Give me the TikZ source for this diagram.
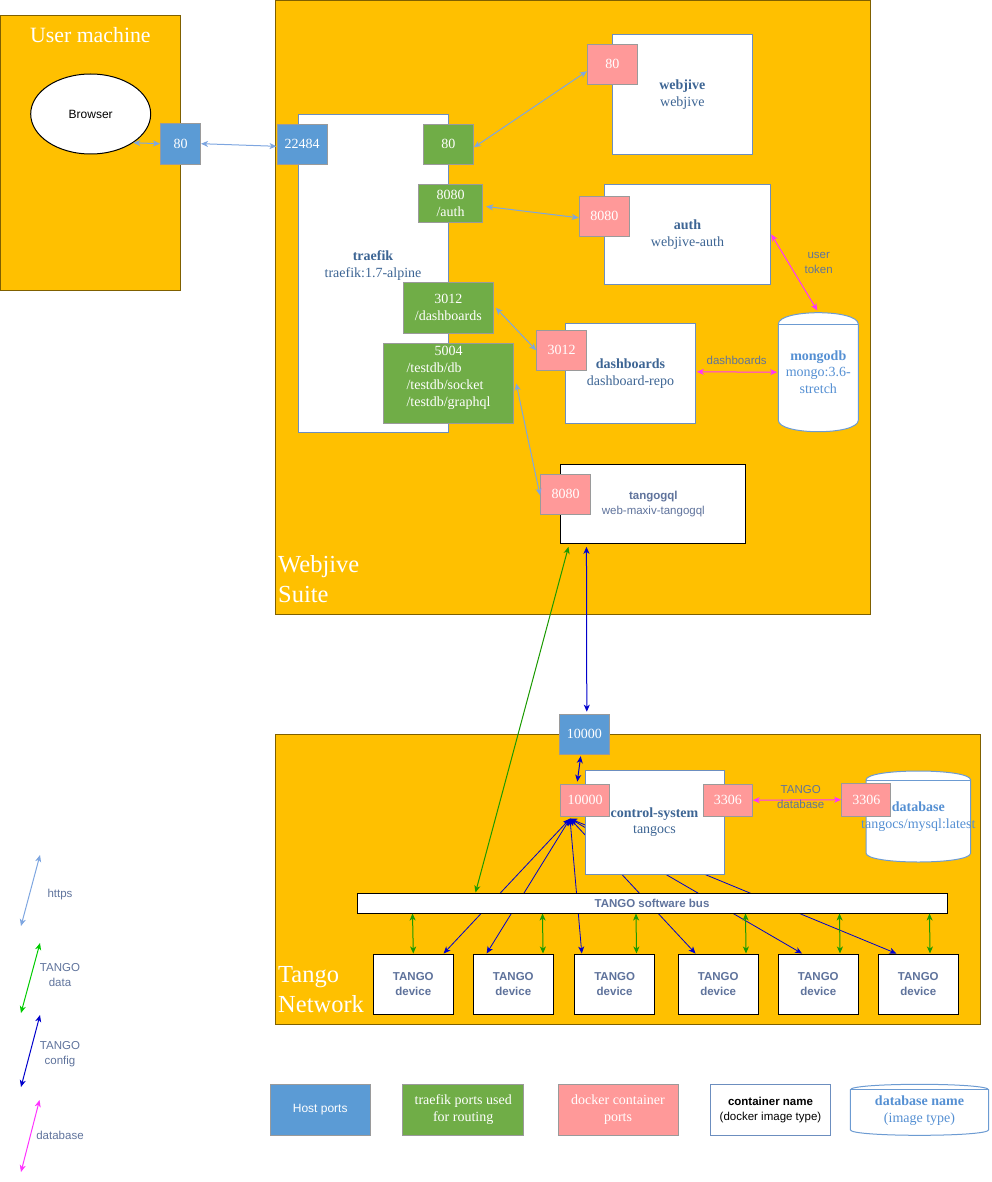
\documentclass[tikz,border=0pt]{standalone}
\usepackage{fontspec}
\setmainfont{Liberation Serif}
\setsansfont{Liberation Sans}
\usetikzlibrary{arrows.meta,calc,shapes.geometric}
\definecolor{ylw}{HTML}{FFC000}
\definecolor{ylwb}{HTML}{7F6000}
\definecolor{hostc}{HTML}{5B9BD5}
\definecolor{grnc}{HTML}{70AD47}
\definecolor{pnkc}{HTML}{FF9999}
\definecolor{portb}{HTML}{9A9A9A}
\definecolor{cbord}{HTML}{6C8EBF}
\definecolor{ctxt}{HTML}{3D6594}
\definecolor{dbtxt}{HTML}{5590D3}
\definecolor{cylb}{HTML}{6C9BD2}
\definecolor{stxt}{HTML}{5F739C}
\definecolor{cHttps}{HTML}{7EA6E0}
\definecolor{cData}{HTML}{1A9A00}
\definecolor{cDataL}{HTML}{00CC00}
\definecolor{cConf}{HTML}{0000CC}
\definecolor{cMag}{HTML}{FF33FF}
\newcommand\fser{\fontsize{14}{16.8}\selectfont}
\newcommand\fsan{\fontsize{11.5}{14.6}\selectfont\sffamily}
\newcommand\drawcyl[6][]{%
 \draw[#1] (#2,#3+#6) .. controls (#2,#3-#6/3) and (#4,#3-#6/3) .. (#4,#3+#6) -- (#4,#5-#6) .. controls (#4,#5+#6/3) and (#2,#5+#6/3) .. (#2,#5-#6) -- cycle;
 \draw[#1] (#2,#3+#6) -- (#4,#3+#6);}
\pgfdeclarelayer{back}
\pgfdeclarelayer{bg}
\pgfsetlayers{back,bg,main}
\tikzset{
 bigbox/.style={draw=ylwb, fill=ylw, line width=1pt, inner sep=0pt},
 titletext/.style={text=white, inner sep=0pt, align=left},
 portbase/.style={draw=portb, line width=1pt, inner sep=0pt, text=white, font=\fser, align=center},
 hostport/.style={portbase, fill=hostc},
 grnport/.style={portbase, fill=grnc},
 pnkport/.style={portbase, fill=pnkc},
 cont/.style={draw=cbord, fill=white, line width=1pt, inner sep=0pt, text=ctxt, font=\fser, align=center},
 ctxtst/.style={inner sep=0pt, text=ctxt, font=\fser, align=center},
 sbox/.style={draw=black, fill=white, line width=1pt, inner sep=0pt, text=stxt, font=\fsan\bfseries, align=center},
 cylnode/.style={inner sep=0pt, text=dbtxt, font=\fser, align=center},
 cylst/.style={draw=cylb, fill=white, line width=1pt},
 lbl/.style={font=\fsan, text=stxt, align=center, inner sep=0pt},
 >={Stealth[length=7pt,width=6pt,inset=2pt]},
 lnhttps/.style={draw=cHttps, line width=1pt, <->},
 lnmag/.style={draw=cMag, line width=1pt, <->},
 lndata/.style={draw=cData, line width=1pt, <->},
 lnconf/.style={draw=cConf, line width=1pt, <->},
}
\begin{document}
\begin{tikzpicture}[x=1pt,y=-1pt]
\useasboundingbox (0,0) rectangle (991,1182);
% ---------- containers (back layer)
\begin{pgfonlayer}{back}
\node[bigbox, minimum width=179.8pt, minimum height=274pt] (usermachine) at (90.4,153) {};
\node[bigbox, minimum width=594.5pt, minimum height=613.5pt] (suite) at (572.75,307.25) {};
\node[bigbox, minimum width=704.3pt, minimum height=289.7pt] (tnet) at (627.85,879.15) {};
\end{pgfonlayer}
\node[titletext, font=\fontsize{21.8}{26}\selectfont] (umtitle) at (90.4,35) {User machine};
\node[titletext, anchor=west, font=\fontsize{24.5}{30}\selectfont] (suitetitle) at (278,579.6) {Webjive\\Suite};
\node[titletext, anchor=west, font=\fontsize{24.5}{30}\selectfont] (tnettitle) at (278,989.6) {Tango\\Network};
% ---------- user machine
\node[draw=black, fill=white, line width=1pt, ellipse, inner sep=0pt, minimum width=120pt, minimum height=80pt, font=\fontsize{12}{14}\selectfont\sffamily] (browser) at (90.7,114) {Browser};
\node[hostport, minimum width=40pt, minimum height=40.7pt] (host80) at (180.5,143.7) {80};
% ---------- webjive suite
\node[cont, minimum width=150pt, minimum height=318pt] (traefik) at (373.5,273.3) {};
\node[ctxtst] (traefikt) at (373,265.7) {\textbf{traefik}\\traefik:1.7-alpine};
\node[hostport, minimum width=50pt, minimum height=40pt] (p22484) at (302,144.3) {22484};
\node[grnport, minimum width=50.2pt, minimum height=40pt] (g80) at (448.4,144.3) {80};
\node[grnport, minimum width=64.4pt, minimum height=38.4pt] (g8080) at (450.5,203.5) {8080\\/auth};
\node[grnport, minimum width=90pt, minimum height=51pt] (g3012) at (448.3,307.8) {3012\\/dashboards};
\node[grnport, minimum width=130.4pt, minimum height=80.4pt] (g5004) at (448.5,383.5) {};
\node[inner sep=0pt, text=white, font=\fser] (g5004t) at (448.5,377.6) {\begin{tabular}{@{}l@{}}\multicolumn{1}{@{}c@{}}{5004}\\/testdb/db\\/testdb/socket\\/testdb/graphql\end{tabular}};

\node[cont, minimum width=140pt, minimum height=120pt] (webjive) at (682.3,94.3) {\textbf{webjive}\\webjive};
\node[pnkport, minimum width=50pt, minimum height=40pt] (w80) at (612.3,64.3) {80};
\node[cont, minimum width=166.4pt, minimum height=100pt] (auth) at (687.5,234.3) {\textbf{auth}\\webjive-auth};
\node[pnkport, minimum width=50pt, minimum height=40pt] (a8080) at (604.3,216.3) {8080};
\node[cont, minimum width=129.6pt, minimum height=100pt] (dashboards) at (630.5,373.3) {\textbf{dashboards}\\dashboard-repo};
\node[pnkport, minimum width=50pt, minimum height=40pt] (d3012) at (561.7,350.3) {3012};
\drawcyl[cylst]{778.3}{312.7}{858.3}{431.7}{11.5}
\node[cylnode, minimum width=80pt, minimum height=119pt] (mongo) at (818.3,372.2) {\textbf{mongodb}\\mongo:3.6-\\stretch};
\node[sbox, minimum width=184.7pt, minimum height=79pt, font=\fsan] (tangogql) at (653.3,503.8) {\textbf{tangogql}\\web-maxiv-tangogql};
\node[pnkport, minimum width=50pt, minimum height=40pt] (t8080) at (565.5,494.3) {8080};
% ---------- tango network
\node[hostport, minimum width=50pt, minimum height=40pt] (h10000) at (584.3,734.2) {10000};
\node[cont, minimum width=139pt, minimum height=103.7pt] (ctrl) at (654.5,822.2) {\textbf{control-system}\\tangocs};
\node[pnkport, minimum width=49pt, minimum height=32pt] (c10000) at (585,800.2) {10000};
\node[pnkport, minimum width=49pt, minimum height=32pt] (c3306) at (727.8,800.2) {3306};
\drawcyl[cylst]{866}{771}{970.7}{862}{9}
\node[cylnode, minimum width=104.7pt, minimum height=91pt] (dbcyl) at (918.3,816.5) {\textbf{database}\\tangocs/mysql:latest};
\node[pnkport, minimum width=49.3pt, minimum height=32.7pt] (d3306) at (866.3,799.7) {3306};
\node[sbox, minimum width=590pt, minimum height=20pt] (bus) at (652,903) {TANGO software bus};
\foreach \n/\cx in {1/413.3,2/513.3,3/614.6,4/718.2,5/818.3,6/918.3}
  \node[sbox, minimum width=80pt, minimum height=60pt] (dev\n) at (\cx,984) {TANGO\\device};
% ---------- connectors
\draw[lnhttps] (browser.-34) -- (host80.west);
\draw[lnhttps] (host80.east) -- ($(p22484.west)+(0,2)$);
\draw[lnhttps] ($(g80.east)+(0,3)$) -- ($(w80.west)+(0,7)$);
\draw[lnhttps] ($(g8080.east)+(3,3)$) -- ($(a8080.west)+(0,1.5)$);
\draw[lnhttps] ($(g3012.east)+(2,0)$) -- (d3012.west);
\draw[lnhttps] ($(g5004.east)+(2,0)$) -- ($(t8080.west)+(0,1)$);
\draw[lnmag] (auth.east) -- ($(mongo.north)+(-1,-2)$);
\node[lbl] (lbltoken) at (818.7,263) {user\\token};
\draw[lnmag] ($(dashboards.east)+(1,-1.5)$) -- ($(mongo.west)+(-1,0)$);
\node[lbl] (lbldash) at (736.7,360.7) {dashboards};
\draw[lndata] ($(bus.north west)+(119,0)$) -- ($(tangogql.south west)+(8,3)$);
\draw[lnconf] ($(tangogql.south west)+(26,3)$) -- ($(h10000.north)+(2.5,-2)$);
\draw[lnconf] ($(h10000.south)+(-3.6,1.5)$) -- ($(c10000.north)+(-7.7,-2)$);
\draw[lnmag] (c3306.east) -- (d3306.west);
\node[lbl] (lbltdb) at (800.7,797.3) {TANGO\\database};
\begin{pgfonlayer}{bg}
\foreach \d/\o in {dev1/30.3,dev2/-26.7,dev3/-32.8,dev4/-22.7,dev5/-16.3,dev6/-21.9}
  \draw[lnconf, line width=0.8pt] ($(c10000.south)+(-15,2)$) -- ($(\d.north)+(\o,0)$);
\end{pgfonlayer}
\foreach \d/\o/\bx in {dev1/0/56,dev2/29.7/186,dev3/21.9/279.5,dev4/27.8/389,dev5/21.7/483,dev6/11.7/573}
  \draw[lndata] ($(bus.south west)+(\bx,0)$) -- ($(\d.north)+(\o,0)$);
% ---------- legend (left)
\coordinate (lh1) at (40,855);   \coordinate (lh2) at (21,926);
\coordinate (ld1) at (40,943);   \coordinate (ld2) at (21,1013);
\coordinate (lc1) at (40,1015);  \coordinate (lc2) at (21,1087);
\coordinate (lm1) at (39.5,1100);\coordinate (lm2) at (21,1172);
\draw[lnhttps] (lh1) -- (lh2);
\draw[lndata, draw=cDataL] (ld1) -- (ld2);
\draw[lnconf] (lc1) -- (lc2);
\draw[lnmag] (lm1) -- (lm2);
\node[lbl] (lgh) at (60,895) {https};
\node[lbl] (lgd) at (60,975) {TANGO\\data};
\node[lbl] (lgc) at (60,1054) {TANGO\\config};
\node[lbl] (lgm) at (60,1135) {database};
% ---------- legend (bottom)
\node[hostport, minimum width=100pt, minimum height=51pt, font=\fontsize{12}{14}\selectfont\sffamily] (lhost) at (320.2,1109.8) {Host ports};
\node[grnport, minimum width=120.6pt, minimum height=51pt] (lgrn) at (463.2,1109.8) {traefik ports used\\for routing};
\node[pnkport, minimum width=120pt, minimum height=51pt] (lpnk) at (618,1109.8) {docker container\\ports};
\node[cont, minimum width=119.6pt, minimum height=51pt, text=black, font=\fsan] (lcont) at (770.5,1109.8) {\textbf{container name}\\(docker image type)};
\drawcyl[cylst]{850.3}{1084.3}{988.6}{1135.3}{5.5}
\node[cylnode, minimum width=138.3pt, minimum height=51pt] (lcyl) at (919.5,1110.5) {\textbf{database name}\\(image type)};
\end{tikzpicture}
\end{document}
